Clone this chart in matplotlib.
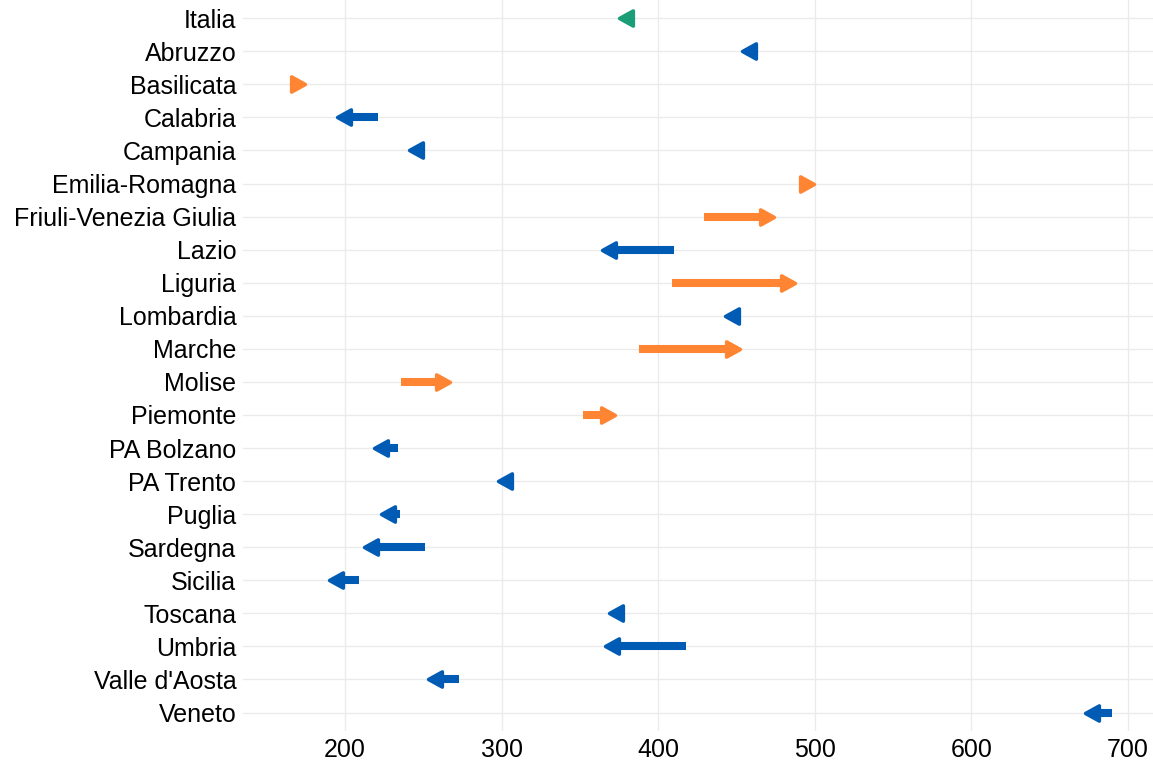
import numpy as np
import matplotlib.pyplot as plt
from matplotlib.path import Path

plt.rcParams['font.family'] = ['Liberation Sans', 'DejaVu Sans']

# Regions, value at start of period and value at end (arrow tip)
regions = ['Italia', 'Abruzzo', 'Basilicata', 'Calabria', 'Campania',
           'Emilia-Romagna', 'Friuli-Venezia Giulia', 'Lazio', 'Liguria',
           'Lombardia', 'Marche', 'Molise', 'Piemonte', 'PA Bolzano',
           'PA Trento', 'Puglia', 'Sardegna', 'Sicilia', 'Toscana', 'Umbria',
           "Valle d'Aosta", 'Veneto']
start = [380, 460, 168, 221, 246, 494, 429, 410, 409, 449, 388, 236, 352,
         234, 304, 235, 251, 209, 376, 418, 273, 690]
end = [374, 453, 175, 194, 240, 500, 475, 363, 488, 442, 453, 268, 373,
       218, 297, 222, 211, 189, 368, 365, 252, 672]

green = '#1B9E77'
orange = '#FF8533'
blue = '#005BB5'

fig, ax = plt.subplots(figsize=(11.53, 7.7), dpi=100)
fig.subplots_adjust(left=0.211, right=1.0, top=1.0, bottom=0.051)

y = np.arange(len(regions))

# arrow head with tip at the origin
head = Path([(0, 0), (-1, 0.55), (-1, -0.55), (0, 0)],
            [Path.MOVETO, Path.LINETO, Path.LINETO, Path.CLOSEPOLY])
head_left = Path([(0, 0), (1, 0.55), (1, -0.55), (0, 0)],
                 [Path.MOVETO, Path.LINETO, Path.LINETO, Path.CLOSEPOLY])

for i, (s, e) in enumerate(zip(start, end)):
    if regions[i] == 'Italia':
        col = green
    elif e > s:
        col = orange
    else:
        col = blue
    d = 1 if e > s else -1
    stop = e - d * min(5, abs(e - s))
    ax.plot([s, stop], [y[i], y[i]], color=col, lw=5.8,
            solid_capstyle='butt', zorder=3)
    ax.plot([e - d * 0.8], [y[i]], marker=head if d > 0 else head_left,
            markersize=20, color=col, markeredgecolor=col,
            markeredgewidth=2.5, zorder=4, linestyle='none')

ax.set_yticks(y)
ax.set_yticklabels(regions)
ax.set_ylim(21.55, -0.55)
ax.set_xlim(135, 716)
ax.set_xticks([200, 300, 400, 500, 600, 700])

ax.grid(True, color='#EBEBEB', lw=1)
ax.set_axisbelow(True)
for sp in ax.spines.values():
    sp.set_visible(False)
ax.tick_params(length=0, labelsize=18, colors='black', pad=5)

plt.savefig('out.png', dpi=100)
